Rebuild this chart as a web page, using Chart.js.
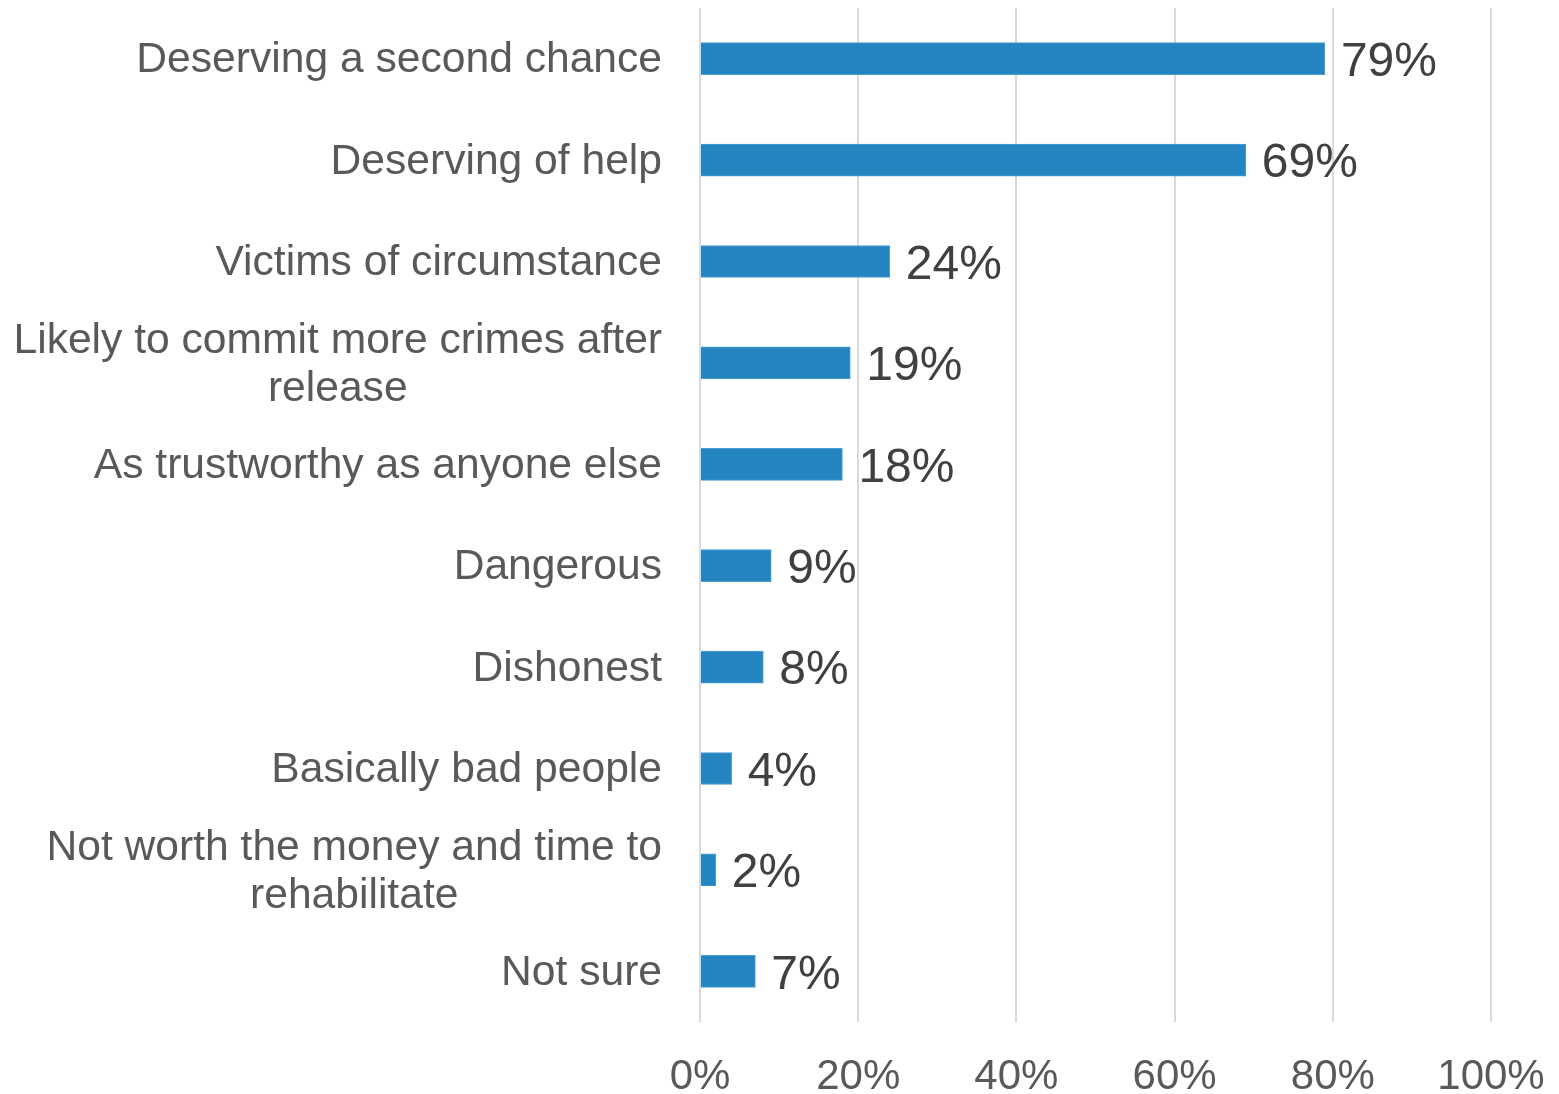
<!DOCTYPE html>
<html>
<head>
<meta charset="utf-8">
<script src="https://cdn.jsdelivr.net/npm/chart.js@4.4.1/dist/chart.umd.min.js"></script>
<style>
  html, body { margin: 0; padding: 0; background: #fff; }
  #wrap { width: 1559px; height: 1094px; position: relative; }
</style>
</head>
<body>
<div id="wrap"><canvas id="barChart"></canvas></div>
<script>
/* ================= DATA ================= */
const categories = [
  ["Deserving a second chance"],
  ["Deserving of help"],
  ["Victims of circumstance"],
  ["Likely to commit more crimes after", "release"],
  ["As trustworthy as anyone else"],
  ["Dangerous"],
  ["Dishonest"],
  ["Basically bad people"],
  ["Not worth the money and time to", "rehabilitate"],
  ["Not sure"]
];
const values = [79, 69, 24, 19, 18, 9, 8, 4, 2, 7];
const tickValues = [0, 20, 40, 60, 80, 100];

const FONT = "'Liberation Sans', Arial, sans-serif";

/* ================= PLUGINS ================= */
// category labels: right-aligned block, lines centred inside it
const categoryLabels = {
  id: "categoryLabels",
  afterDraw(chart) {
    const ctx = chart.ctx;
    const yScale = chart.scales.y;
    const right = chart.chartArea.left - 38;
    const lineH = 48;
    ctx.save();
    ctx.font = "42.6px " + FONT;
    ctx.fillStyle = "#595959";
    ctx.textAlign = "center";
    ctx.textBaseline = "middle";
    categories.forEach((lines, i) => {
      const y = yScale.getPixelForValue(i) + 2;
      const maxW = Math.max(...lines.map(l => ctx.measureText(l).width));
      const cx = right - maxW / 2;
      const top = y - (lines.length - 1) * lineH / 2;
      lines.forEach((l, j) => ctx.fillText(l, cx, top + j * lineH));
    });
    ctx.restore();
  }
};

// value labels at bar ends
const valueLabels = {
  id: "valueLabels",
  afterDatasetsDraw(chart) {
    const ctx = chart.ctx;
    const meta = chart.getDatasetMeta(0);
    ctx.save();
    ctx.font = "48px " + FONT;
    ctx.fillStyle = "#404040";
    ctx.textAlign = "left";
    ctx.textBaseline = "middle";
    meta.data.forEach((bar, i) => {
      ctx.fillText(values[i] + "%", bar.x + 16, bar.y + 4);
    });
    ctx.restore();
  }
};

/* ================= CHART ================= */
new Chart(document.getElementById("barChart"), {
  type: "bar",
  data: {
    labels: categories.map(c => c.join(" ")),
    datasets: [{
      data: values,
      backgroundColor: "#2585c1",
      borderColor: "#4b9ed3",
      borderWidth: 1,
      barThickness: 32
    }]
  },
  options: {
    indexAxis: "y",
    responsive: true,
    maintainAspectRatio: false,
    animation: false,
    layout: { padding: { top: 8, right: 68, bottom: 0, left: 0 } },
    plugins: {
      legend: { display: false },
      tooltip: { enabled: false }
    },
    scales: {
      x: {
        min: 0,
        max: 100,
        afterBuildTicks: (s) => { s.ticks = tickValues.map(v => ({ value: v })); },
        afterFit: (s) => {
          s.height = 72;
          s.paddingLeft = 0;
          s.paddingRight = 0;
        },
        grid: { color: "#d9d9d9", lineWidth: 2, drawTicks: false },
        border: { display: false },
        ticks: {
          padding: 34,
          color: "#595959",
          font: { family: FONT, size: 42, lineHeight: 1 },
          maxRotation: 0,
          callback: (v) => v + "%"
        }
      },
      y: {
        afterFit: (s) => { s.width = 700; },
        grid: { display: false },
        border: { display: false },
        ticks: { display: false }
      }
    }
  },
  plugins: [categoryLabels, valueLabels]
});
</script>
</body>
</html>
